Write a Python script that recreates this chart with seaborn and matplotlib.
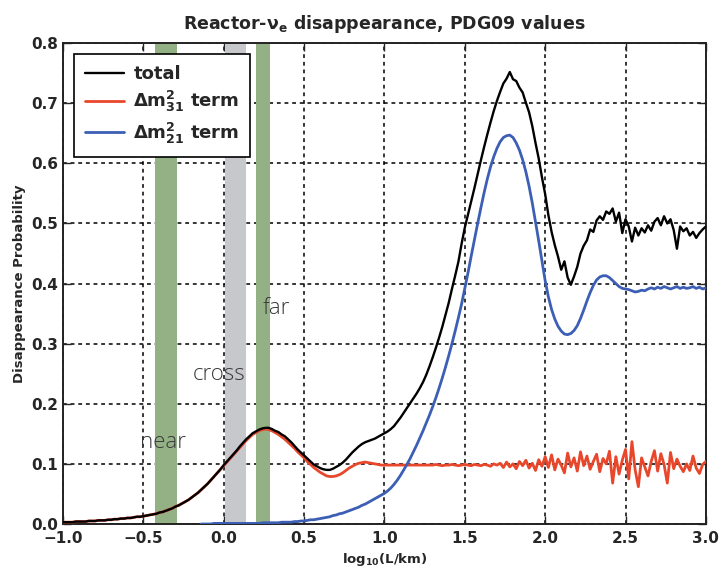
"""
Reactor anti-nu_e disappearance probability vs baseline
"""

import numpy as np
import matplotlib
matplotlib.use("Agg")
import matplotlib.pyplot as plt
import seaborn as sns

nan = np.nan

# log10(L/km) grid, 0.02 steps from -1.0 to 3.0
log_l = np.round(np.linspace(-1.0, 3.0, 201), 2)

# Delta m^2_31 term (red)
p_31 = [
    0.003, 0.003, 0.003, 0.003, 0.004, 0.004, 0.004, 0.004, 0.005, 0.005,
    0.005, 0.006, 0.006, 0.006, 0.007, 0.007, 0.008, 0.008, 0.009, 0.009,
    0.010, 0.010, 0.011, 0.012, 0.012, 0.013, 0.014, 0.015, 0.016, 0.017,
    0.019, 0.020, 0.022, 0.024, 0.026, 0.029, 0.031, 0.034, 0.037, 0.040,
    0.044, 0.048, 0.052, 0.057, 0.062, 0.067, 0.073, 0.079, 0.085, 0.091,
    0.097, 0.103, 0.109, 0.115, 0.121, 0.127, 0.133, 0.139, 0.144, 0.149,
    0.152, 0.155, 0.157, 0.158, 0.157, 0.155, 0.152, 0.149, 0.145, 0.141,
    0.136, 0.131, 0.126, 0.120, 0.115, 0.110, 0.104, 0.099, 0.094, 0.090,
    0.086, 0.083, 0.080, 0.079, 0.079, 0.080, 0.082, 0.085, 0.089, 0.093,
    0.096, 0.099, 0.101, 0.102, 0.103, 0.102, 0.101, 0.100, 0.099, 0.098,
    0.098, 0.098, 0.098, 0.098, 0.098, 0.098, 0.098, 0.098, 0.098, 0.098,
    0.098, 0.098, 0.098, 0.098, 0.098, 0.098, 0.099, 0.098, 0.097, 0.098,
    0.098, 0.099, 0.098, 0.097, 0.098, 0.099, 0.098, 0.097, 0.099, 0.098,
    0.097, 0.099, 0.098, 0.096, 0.100, 0.098, 0.101, 0.094, 0.103, 0.095,
    0.100, 0.092, 0.104, 0.097, 0.106, 0.093, 0.101, 0.089, 0.107, 0.096,
    0.112, 0.094, 0.115, 0.090, 0.108, 0.098, 0.085, 0.118, 0.095, 0.110,
    0.088, 0.120, 0.097, 0.113, 0.091, 0.104, 0.116, 0.087, 0.109, 0.100,
    0.121, 0.068, 0.112, 0.083, 0.106, 0.124, 0.075, 0.137, 0.090, 0.062,
    0.110, 0.095, 0.080, 0.104, 0.122, 0.088, 0.117, 0.099, 0.068, 0.119,
    0.092, 0.108, 0.096, 0.087, 0.100, 0.089, 0.113, 0.093, 0.084, 0.099,
    0.104,
]

# Delta m^2_21 term (blue), not computed below ~0.7 km
p_21 = [
    nan, nan, nan, nan, nan, nan, nan, nan, nan, nan,
    nan, nan, nan, nan, nan, nan, nan, nan, nan, nan,
    nan, nan, nan, nan, nan, nan, nan, nan, nan, nan,
    nan, nan, nan, nan, nan, nan, nan, nan, nan, nan,
    nan, nan, nan, 0.000, 0.000, 0.000, 0.000, 0.001, 0.001, 0.001,
    0.001, 0.001, 0.001, 0.001, 0.001, 0.001, 0.001, 0.001, 0.001, 0.001,
    0.001, 0.001, 0.002, 0.002, 0.002, 0.002, 0.002, 0.002, 0.003, 0.003,
    0.003, 0.003, 0.004, 0.004, 0.005, 0.005, 0.006, 0.007, 0.007, 0.008,
    0.009, 0.010, 0.011, 0.012, 0.014, 0.015, 0.017, 0.018, 0.020, 0.022,
    0.024, 0.026, 0.028, 0.031, 0.033, 0.036, 0.039, 0.042, 0.045, 0.048,
    0.051, 0.055, 0.060, 0.066, 0.073, 0.081, 0.090, 0.099, 0.109, 0.120,
    0.131, 0.143, 0.155, 0.168, 0.181, 0.195, 0.210, 0.226, 0.243, 0.261,
    0.280, 0.300, 0.321, 0.343, 0.366, 0.392, 0.418, 0.446, 0.473, 0.500,
    0.526, 0.551, 0.574, 0.594, 0.611, 0.625, 0.636, 0.643, 0.646, 0.647,
    0.643, 0.634, 0.622, 0.606, 0.586, 0.562, 0.534, 0.503, 0.471, 0.438,
    0.405, 0.378, 0.357, 0.341, 0.329, 0.321, 0.316, 0.315, 0.317, 0.322,
    0.330, 0.342, 0.356, 0.371, 0.385, 0.397, 0.406, 0.411, 0.413, 0.413,
    0.410, 0.405, 0.400, 0.395, 0.392, 0.391, 0.390, 0.388, 0.386, 0.387,
    0.389, 0.388, 0.391, 0.393, 0.391, 0.394, 0.392, 0.395, 0.393, 0.391,
    0.393, 0.395, 0.392, 0.394, 0.392, 0.393, 0.395, 0.392, 0.394, 0.391,
    0.393,
]

# total disappearance probability (black)
p_total = [
    0.003, 0.003, 0.003, 0.003, 0.004, 0.004, 0.004, 0.004, 0.005, 0.005,
    0.005, 0.006, 0.006, 0.006, 0.007, 0.007, 0.008, 0.008, 0.009, 0.009,
    0.010, 0.010, 0.011, 0.012, 0.012, 0.013, 0.014, 0.015, 0.016, 0.017,
    0.019, 0.020, 0.022, 0.024, 0.026, 0.029, 0.031, 0.034, 0.037, 0.040,
    0.044, 0.048, 0.052, 0.057, 0.062, 0.067, 0.073, 0.079, 0.085, 0.091,
    0.098, 0.104, 0.110, 0.116, 0.122, 0.129, 0.135, 0.141, 0.146, 0.151,
    0.154, 0.157, 0.159, 0.160, 0.160, 0.158, 0.155, 0.153, 0.149, 0.146,
    0.141, 0.136, 0.130, 0.124, 0.119, 0.114, 0.109, 0.104, 0.099, 0.096,
    0.093, 0.091, 0.090, 0.090, 0.092, 0.095, 0.098, 0.102, 0.107, 0.113,
    0.119, 0.124, 0.129, 0.133, 0.136, 0.138, 0.140, 0.142, 0.145, 0.148,
    0.151, 0.154, 0.158, 0.163, 0.170, 0.177, 0.185, 0.193, 0.201, 0.209,
    0.217, 0.226, 0.236, 0.248, 0.262, 0.277, 0.293, 0.310, 0.328, 0.348,
    0.368, 0.391, 0.413, 0.436, 0.466, 0.493, 0.515, 0.537, 0.559, 0.582,
    0.605, 0.627, 0.648, 0.668, 0.687, 0.704, 0.719, 0.733, 0.741, 0.752,
    0.740, 0.737, 0.726, 0.718, 0.701, 0.685, 0.662, 0.634, 0.608, 0.577,
    0.549, 0.514, 0.486, 0.464, 0.445, 0.423, 0.437, 0.410, 0.398, 0.412,
    0.428, 0.450, 0.463, 0.472, 0.490, 0.486, 0.505, 0.512, 0.506, 0.520,
    0.516, 0.525, 0.503, 0.518, 0.484, 0.507, 0.495, 0.470, 0.493, 0.480,
    0.492, 0.485, 0.497, 0.488, 0.503, 0.509, 0.497, 0.512, 0.500, 0.507,
    0.489, 0.458, 0.495, 0.487, 0.492, 0.480, 0.486, 0.476, 0.484, 0.490,
    0.495,
]

# detector baseline bands: (label, lo, hi, colour, label x, label y)
bands = [
    ("near", -0.43, -0.29, "#93b184", -0.38, 0.135),
    ("cross", 0.01, 0.14, "#c6c8cc", -0.03, 0.248),
    ("far", 0.20, 0.29, "#93b184", 0.325, 0.359),
]

assert len(p_31) == len(p_21) == len(p_total) == len(log_l)

sns.set_style("ticks")
plt.rcParams["font.family"] = ["DejaVu Sans"]
plt.rcParams["mathtext.default"] = "bf"

fig = plt.figure(figsize=(7.21, 5.68), dpi=100)
ax = fig.add_axes([0.0874, 0.0775, 0.8916, 0.8465])

for name, lo, hi, col, tx, ty in bands:
    ax.axvspan(lo, hi, color=col, zorder=1, lw=0)
    ax.text(tx, ty, name, ha="center", va="center", fontsize=16,
            color="#3a3a3a", family="Open Sans", fontweight="light", zorder=2)

sns.lineplot(x=log_l, y=p_total, color="black", lw=1.7, ax=ax,
             label="total", estimator=None, sort=False, zorder=4)
sns.lineplot(x=log_l, y=p_31, color="#e8472b", lw=2.0, ax=ax,
             label=r"$\Delta m^2_{31}$ term", estimator=None, sort=False, zorder=3)
sns.lineplot(x=log_l, y=p_21, color="#3c5fb5", lw=2.0, ax=ax,
             label=r"$\Delta m^2_{21}$ term", estimator=None, sort=False, zorder=3)

ax.set_xlim(-1.0, 3.0)
ax.set_ylim(0.0, 0.8)
ax.set_xticks(np.arange(-1.0, 3.01, 0.5))
ax.set_yticks(np.arange(0.0, 0.81, 0.1))
ax.grid(True, color="black", linestyle=(0, (2.5, 2.5)), linewidth=1.1)
ax.set_axisbelow(True)
ax.tick_params(direction="in", top=True, right=True, length=6, width=1,
               labelsize=11)
ax.tick_params(axis="x", pad=5)
for lab in ax.get_xticklabels() + ax.get_yticklabels():
    lab.set_fontweight("bold")
for sp in ax.spines.values():
    sp.set_linewidth(1.4)
    sp.set_color("#222222")

ax.set_title(r"Reactor-$\nu_e$ disappearance, PDG09 values",
             fontsize=12.5, fontweight="bold", pad=10)
ax.set_xlabel(r"log$_{10}$(L/km)", fontsize=9.5, fontweight="bold")
ax.set_ylabel("Disappearance Probability", fontsize=9.5, fontweight="bold")

leg = ax.legend(loc="upper left", fontsize=13, frameon=True, fancybox=False,
                framealpha=1.0, borderaxespad=0.6, borderpad=0.6,
                handlelength=2.2, handletextpad=0.5, labelspacing=0.35)
leg.get_frame().set_edgecolor("black")
leg.get_frame().set_linewidth(1.2)
for t in leg.get_texts():
    t.set_fontweight("bold")

plt.savefig("out.png", dpi=100)
plt.close()
